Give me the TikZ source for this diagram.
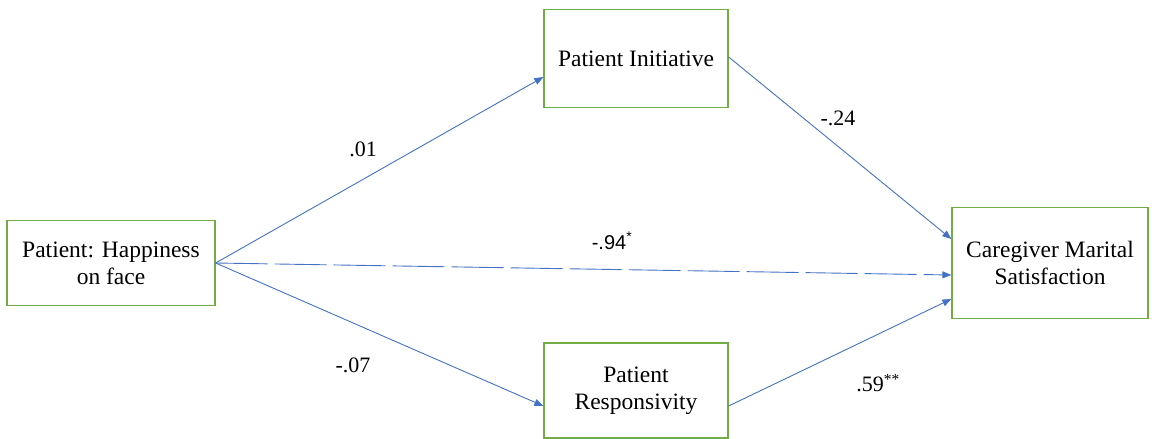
\documentclass[tikz,border=0pt]{standalone}
\usepackage{fontspec}
\setmainfont{Liberation Serif}
\setsansfont{Liberation Sans}
\usetikzlibrary{arrows.meta}
\definecolor{boxgreen}{HTML}{70AD47}
\definecolor{arrblue}{HTML}{4472C4}
\begin{document}
\begin{tikzpicture}[x=1pt,y=-1pt,
  varbox/.style={draw=boxgreen, line width=1.3pt, rectangle, inner sep=0pt, align=center,
    font=\rmfamily\fontsize{23.5}{27}\selectfont},
  path/.style={draw=arrblue, line width=0.9pt, -{Triangle[length=9pt,width=7pt]}},
  coef/.style={font=\rmfamily\fontsize{22}{26}\selectfont, inner sep=0pt}]
\useasboundingbox (0,0) rectangle (1154,439);
\node[varbox, minimum width=208pt, minimum height=85pt] (x) at (111,263) {Patient: Happiness\\on face};
\node[varbox, minimum width=184pt, minimum height=98pt] (m1) at (636,58.5) {Patient Initiative};
\node[varbox, minimum width=184pt, minimum height=95pt] (m2) at (636,390.5) {Patient\\Responsivity};
\node[varbox, minimum width=196pt, minimum height=111pt] (y) at (1050,263) {Caregiver Marital\\Satisfaction};
\coordinate (xo) at (x.east);
\coordinate (m1in) at ([yshift=-18.5pt]m1.west);
\coordinate (m2in) at ([yshift=-15.5pt]m2.west);
\coordinate (m1out) at ([yshift=1.5pt]m1.east);
\coordinate (m2out) at ([yshift=-15.5pt]m2.east);
\coordinate (yin1) at ([yshift=24pt]y.west);
\coordinate (yin2) at ([yshift=-12pt]y.west);
\coordinate (yin3) at ([yshift=-36pt]y.west);
\draw[path] (xo) -- (m1in);
\draw[path] (xo) -- (m2in);
\draw[path, dash pattern=on 52pt off 7pt] (xo) -- (yin2);
\draw[path] (m1out) -- (yin1);
\draw[path] (m2out) -- (yin3);
\node[coef] (c1) at (363,149) {.01};
\node[coef] (c2) at (838,118) {-.24};
\node[coef] (c3) at (353,365) {-.07};
\node[coef, font=\sffamily\fontsize{20}{24}\selectfont] (c4) at (612,241) {-.94\textsuperscript{*}};
\node[coef] (c5) at (878,383) {.59\textsuperscript{**}};
\end{tikzpicture}
\end{document}
